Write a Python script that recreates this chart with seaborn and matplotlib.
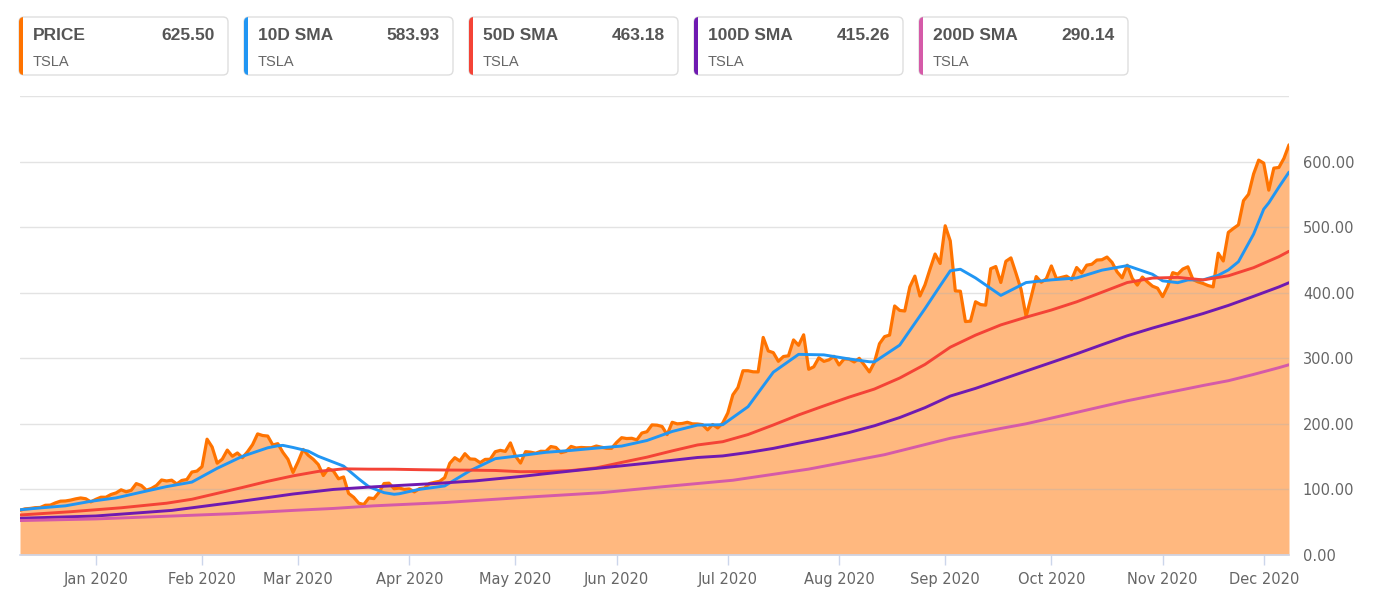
import pandas as pd
import matplotlib
matplotlib.use("Agg")
import matplotlib.pyplot as plt
import seaborn as sns
from matplotlib.patches import FancyBboxPatch, Rectangle
from matplotlib.transforms import IdentityTransform

# trading days on the chart (Dec 10 2019 .. Dec 8 2020)
holidays = ["2019-12-25", "2020-01-01", "2020-01-20", "2020-02-17", "2020-04-10",
            "2020-05-25", "2020-07-03", "2020-09-07", "2020-11-26"]
dates = pd.bdate_range("2019-12-10", "2020-12-08", freq="C", holidays=holidays)

# TSLA daily price (split adjusted), one value per trading day
price = [
    # Dec 2019
    68.2, 70.4, 71.0, 72.2, 72.5, 75.8, 76.1, 79.5, 82.1, 82.4, 83.7, 85.6, 87.0, 85.8, 81.0,
    # Jan
    84.9, 88.1, 88.1, 92.3, 94.7, 99.4, 96.4, 98.7, 108.9, 106.0, 98.8, 101.5, 106.1, 114.4,
    112.9, 114.1, 108.4, 113.7, 115.1, 126.5, 128.0,
    # Feb
    134.7, 176.6, 164.7, 140.0, 146.1, 160.0, 150.6, 155.6, 148.4, 157.4, 168.3, 184.7, 182.2,
    181.4, 167.8, 169.8, 156.5, 146.0, 125.9,
    # Mar
    142.2, 161.0, 152.2, 146.0, 138.0, 121.2, 131.9, 128.0, 116.2, 119.0, 93.9, 88.0, 79.0,
    77.0, 87.0, 86.0, 95.4, 109.0, 109.5, 101.0, 102.1, 100.2,
    # Apr
    100.8, 96.2, 101.2, 102.2, 109.0, 110.8, 112.4, 118.0, 139.8, 148.4, 143.4, 154.5, 146.5,
    146.0, 140.8, 145.8, 146.0, 157.5, 159.6, 158.0, 171.0,
    # May
    151.0, 140.2, 157.6, 156.8, 155.2, 158.2, 158.0, 165.4, 164.0, 156.0, 158.0, 165.6, 163.2,
    164.0, 163.6, 163.6, 166.2, 164.4, 162.8, 162.6,
    # Jun
    171.6, 178.9, 177.6, 178.0, 175.6, 186.0, 188.0, 198.4, 198.0, 196.0, 183.6, 202.4, 200.0,
    200.6, 202.4, 200.0, 199.8, 198.8, 190.9, 199.0, 193.8, 201.3,
    # Jul
    216.6, 244.3, 255.3, 281.0, 281.0, 279.4, 279.2, 331.8, 311.2, 308.6, 295.4, 302.7, 303.8,
    328.0, 319.8, 335.8, 283.2, 287.0, 300.8, 295.3, 297.6, 303.0,
    # Aug
    289.8, 299.0, 298.6, 294.4, 299.9, 289.7, 279.2, 294.0, 322.2, 333.0, 335.4, 379.8, 373.0,
    372.1, 408.8, 425.3, 395.0, 412.0, 436.1, 459.0, 444.6,
    # Sep
    502.1, 479.0, 402.8, 402.3, 356.0, 356.6, 386.2, 381.9, 381.0, 436.6, 439.9, 415.6, 447.9,
    453.1, 429.6, 405.2, 363.8, 393.5, 424.6, 416.0, 421.3,
    # Oct
    440.8, 421.4, 423.4, 425.3, 419.9, 438.4, 430.1, 442.0, 443.4, 449.8, 450.3, 454.4, 446.2,
    431.8, 422.7, 441.9, 421.8, 411.6, 423.8, 416.5, 410.0, 406.9,
    # Nov
    394.0, 409.7, 430.6, 428.3, 436.1, 439.5, 420.1, 416.5, 414.1, 410.9, 408.9, 460.2, 448.4,
    492.0, 498.0, 503.5, 540.4, 550.1, 581.2, 602.2,
    # Dec
    597.6, 556.4, 590.0, 591.0, 604.9, 625.5,
]

# moving averages, read at sample trading-day numbers
sma10_day = [0, 4, 9, 14, 19, 24, 29, 34, 39, 44, 49, 51, 52, 54, 57, 59, 64, 67, 69, 72, 74,
             75, 77, 79, 84, 89, 94, 99, 104, 109, 114, 119, 124, 129, 134, 139, 144, 149, 154,
             159, 164, 168, 169, 174, 179, 182, 184, 186, 189, 194, 199, 204, 209, 214, 219,
             224, 226, 229, 231, 234, 237, 239, 241, 244, 246, 247, 249, 251]
sma10 = [69.0, 71.8, 75.0, 81.9, 87.1, 95.8, 104.3, 111.2, 132.2, 150.5, 163.5, 166.6, 167.2,
         164.0, 158.5, 150.5, 135.6, 116.1, 104.1, 95.1, 92.6, 93.4, 96.8, 100.1, 105.3, 128.5,
         146.9, 151.6, 156.6, 159.5, 163.0, 166.1, 174.6, 188.4, 198.1, 198.7, 226.2, 278.8,
         306.0, 305.2, 299.0, 294.7, 294.5, 320.1, 375.7, 410.6, 433.4, 435.8, 422.5, 395.9,
         415.5, 419.6, 422.5, 434.4, 441.3, 428.1, 418.1, 415.3, 419.5, 419.6, 426.5, 434.7,
         447.3, 489.4, 527.4, 537.0, 561.0, 583.93]

sma50_day = [0, 10, 20, 29, 34, 39, 44, 49, 54, 59, 64, 69, 74, 79, 84, 89, 94, 99, 104, 109,
             114, 119, 124, 129, 134, 139, 144, 149, 154, 159, 164, 169, 174, 179, 184, 189,
             194, 199, 204, 209, 214, 219, 224, 229, 234, 239, 244, 249, 251]
sma50 = [61.0, 66.0, 72.0, 79.0, 85.0, 94.0, 103.0, 112.4, 120.7, 127.5, 131.4, 130.9, 130.8,
         130.1, 129.6, 129.4, 128.9, 127.0, 127.4, 128.8, 132.9, 141.2, 149.2, 158.8, 167.8,
         172.8, 183.7, 198.3, 213.6, 227.4, 240.8, 253.1, 269.9, 290.6, 316.9, 335.3, 350.9,
         362.7, 373.6, 386.1, 400.7, 415.5, 422.3, 423.4, 419.5, 425.8, 438.2, 455.0, 463.18]

sma100_day = [0, 15, 30, 42, 54, 62, 70, 82, 90, 94, 99, 104, 109, 114, 119, 124, 129, 134,
              139, 144, 149, 154, 159, 164, 169, 174, 179, 184, 189, 194, 199, 204, 209, 214,
              219, 224, 229, 234, 239, 244, 249, 251]
sma100 = [56.0, 59.5, 68.0, 80.0, 93.0, 100.0, 104.0, 109.0, 113.0, 116.0, 119.7, 124.0, 128.1,
          132.1, 136.0, 140.0, 144.4, 148.7, 151.1, 156.3, 162.6, 170.5, 178.1, 186.8, 197.1,
          209.6, 224.7, 242.4, 254.1, 267.3, 280.5, 293.6, 306.8, 320.7, 334.3, 346.1, 357.0,
          368.2, 380.6, 394.5, 408.8, 415.26]

sma200_day = [0, 15, 32, 42, 54, 62, 70, 84, 102, 115, 127, 141, 156, 171, 184, 194, 199, 204,
              209, 214, 219, 224, 229, 234, 239, 244, 249, 251]
sma200 = [52.5, 55.0, 60.0, 63.0, 68.0, 71.0, 75.0, 80.0, 89.0, 95.0, 104.0, 114.0, 131.0,
          153.0, 178.0, 193.0, 200.1, 208.8, 217.5, 226.4, 235.2, 243.0, 250.7, 258.5, 265.8,
          275.4, 285.7, 290.14]

names = ["PRICE", "10D SMA", "50D SMA", "100D SMA", "200D SMA"]
symbol = "TSLA"
colors = ["#ff7300", "#2196f3", "#f44336", "#6f1ab1", "#d55aa8"]

assert len(price) == len(dates)
days = list(range(len(dates)))

sns.set_theme(style="white")
plt.rcParams["font.family"] = ["DejaVu Sans"]

W, H = 1391, 614
fig = plt.figure(figsize=(W / 100, H / 100), dpi=100)
ax = fig.add_axes([20 / W, 59 / H, 1269 / W, 459 / H])

# price area
ax.fill_between(days, price, 0, color=colors[0], alpha=0.5, linewidth=0, zorder=1)
for v in range(100, 800, 100):
    ax.axhline(v, color="#b0b0b0", alpha=0.35, linewidth=1, zorder=2)

series = [(days, price), (sma10_day, sma10), (sma50_day, sma50),
          (sma100_day, sma100), (sma200_day, sma200)]
for i, (xs, ys) in enumerate(series):
    df = pd.DataFrame({"day": xs, "value": ys})
    sns.lineplot(data=df, x="day", y="value", ax=ax, color=colors[i],
                 linewidth=2.3 if i == 0 else 2.1, zorder=3 + i, legend=False)

ax.set_xlim(0, len(dates) - 1)
ax.set_ylim(0, 700)
ax.set_xlabel("")
ax.set_ylabel("")

# month ticks at first trading day of each month
month = dates.month
tick_pos = [i for i in range(1, len(dates)) if month[i] != month[i - 1]]
ax.set_xticks(tick_pos)
ax.set_xticklabels([dates[i].strftime("%b %Y") for i in tick_pos])
ax.tick_params(axis="x", direction="out", length=7.5, width=1, color="#ccd6eb",
               labelsize=10.5, labelcolor="#666666", pad=5, bottom=True)

ax.yaxis.tick_right()
ax.set_yticks(range(0, 700, 100))
ax.set_yticklabels([f"{v:.2f}" for v in range(0, 700, 100)])
ax.tick_params(axis="y", length=0, pad=10, labelsize=10.5, labelcolor="#666666")

for s in ["top", "left", "right"]:
    ax.spines[s].set_visible(False)
ax.spines["bottom"].set_color("#ccd6eb")
ax.spines["bottom"].set_linewidth(1.2)
ax.spines["bottom"].set_zorder(10)

# legend cards along the top
last = [price[-1], sma10[-1], sma50[-1], sma100[-1], sma200[-1]]
for i, name in enumerate(names):
    x0 = 19 + 225 * i
    y0 = H - 75
    card = FancyBboxPatch((x0, y0), 209, 58, boxstyle="round,pad=0,rounding_size=5",
                          transform=IdentityTransform(), facecolor="white",
                          edgecolor="#dedede", linewidth=1)
    fig.add_artist(card)
    bar = Rectangle((x0 - 1, y0 - 1), 5, 60, transform=IdentityTransform(),
                    facecolor=colors[i], edgecolor="none")
    bar.set_clip_path(card)
    fig.add_artist(bar)
    fig.text((x0 + 14) / W, 1 - 36 / H, name, fontsize=12.5, fontweight="bold",
             color="#555555", va="center", ha="left", family="Liberation Sans")
    fig.text((x0 + 196) / W, 1 - 36 / H, f"{last[i]:.2f}", fontsize=12.5,
             fontweight="bold", color="#555555", va="center", ha="right",
             family="Liberation Sans")
    fig.text((x0 + 14) / W, 1 - 62 / H, symbol, fontsize=10.5, color="#666666",
             va="center", ha="left", family="Liberation Sans")

fig.savefig("out.png", dpi=100)
